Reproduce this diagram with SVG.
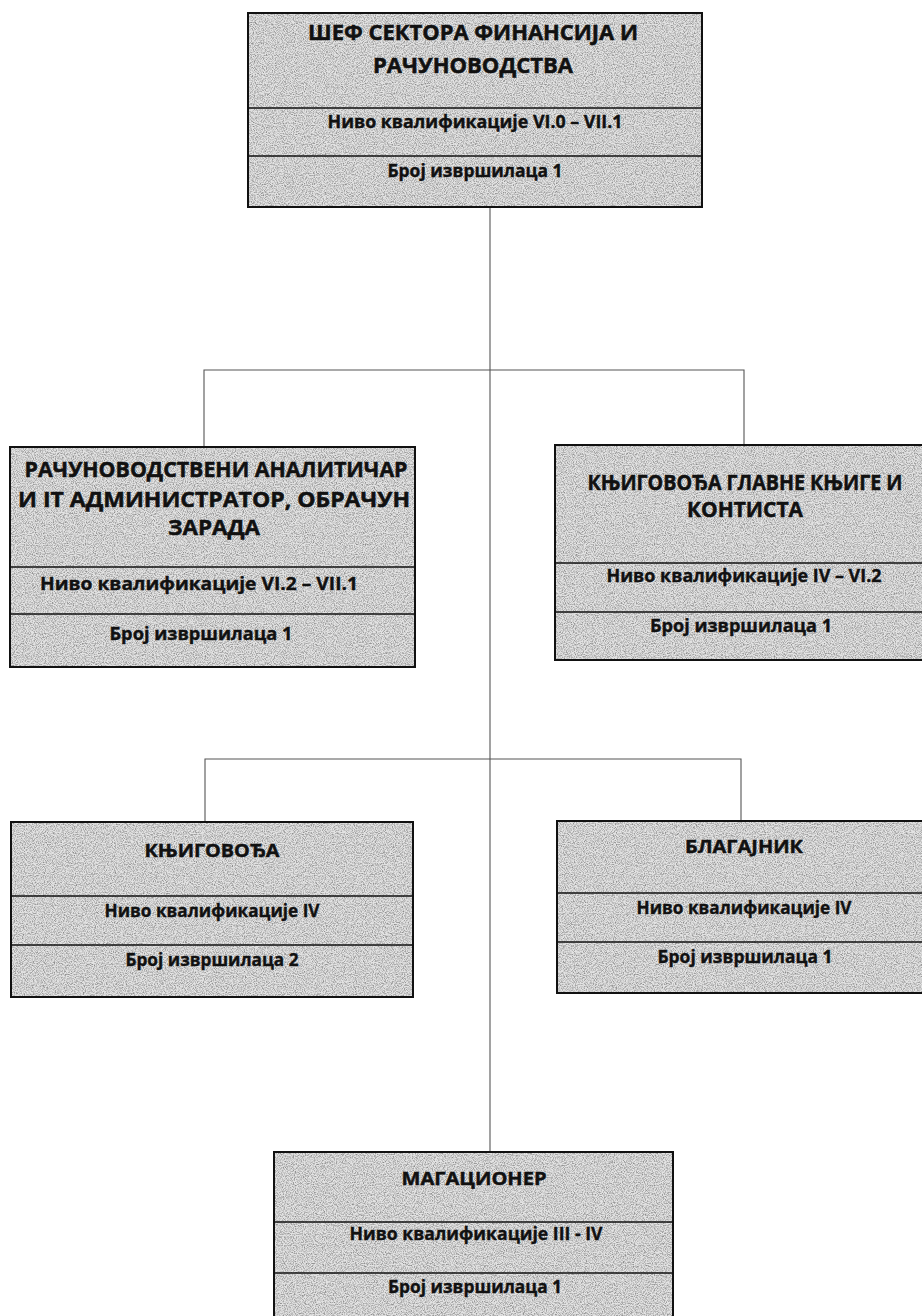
<svg xmlns="http://www.w3.org/2000/svg" width="922" height="1316" viewBox="0 0 922 1316">
<defs>
<filter id="grain" x="0" y="0" width="100%" height="100%" color-interpolation-filters="sRGB">
<feTurbulence type="fractalNoise" baseFrequency="0.9" numOctaves="2" seed="7" result="n"/>
<feColorMatrix in="n" type="matrix" values="0 0 0 0 0.55  0 0 0 0 0.55  0 0 0 0 0.55  2.4 0 0 0 -0.95" result="dots"/>
<feComposite in="dots" in2="SourceGraphic" operator="in" result="d2"/>
<feMerge><feMergeNode in="SourceGraphic"/><feMergeNode in="d2"/></feMerge>
</filter>
</defs>
<style>
.bg{fill:#e3e3e3;filter:url(#grain);}
.box{fill:none;stroke:#111;stroke-width:2;}
.div{stroke:#111;stroke-width:1.6;}
.con{fill:none;stroke:#555;stroke-width:1.1;}
text{font-family:"Open Sans",Lato,"Liberation Sans",sans-serif;font-weight:bold;fill:#111;stroke:#111;stroke-width:0.35;text-anchor:middle;}
.t{font-size:21px;stroke-width:0.5;}
.t2{font-size:18.5px;stroke-width:0.45;}
.s{font-size:17px;}
</style>
<rect width="922" height="1316" fill="#ffffff"/>
<g id="connectors">
<path class="con" d="M490,207 V1152"/>
<path class="con" d="M204,447 V370 H744 V445"/>
<path class="con" d="M205,822 V759 H741 V821"/>
</g>
<g id="n-shef">
<rect class="bg" x="248" y="13" width="454" height="194"/>
<rect class="box" x="248" y="13" width="454" height="194"/>
<line class="div" x1="248" y1="108" x2="702" y2="108"/>
<line class="div" x1="248" y1="156" x2="702" y2="156"/>
<text class="t" x="473" y="40" textLength="330" lengthAdjust="spacingAndGlyphs">ШЕФ СЕКТОРА ФИНАНСИЈА И</text>
<text class="t" x="473" y="73" textLength="200" lengthAdjust="spacingAndGlyphs">РАЧУНОВОДСТВА</text>
<text class="s" x="475" y="128" textLength="295" lengthAdjust="spacingAndGlyphs">Ниво квалификације VI.0 – VII.1</text>
<text class="s" x="475" y="177" textLength="175" lengthAdjust="spacingAndGlyphs">Број извршилаца 1</text>
</g>
<g id="n-analiticar">
<rect class="bg" x="10" y="447" width="405" height="220"/>
<rect class="box" x="10" y="447" width="405" height="220"/>
<line class="div" x1="10" y1="567" x2="415" y2="567"/>
<line class="div" x1="10" y1="614" x2="415" y2="614"/>
<text class="t" x="216" y="477" textLength="383" lengthAdjust="spacingAndGlyphs">РАЧУНОВОДСТВЕНИ АНАЛИТИЧАР</text>
<text class="t" x="214" y="507" textLength="392" lengthAdjust="spacingAndGlyphs">И IT АДМИНИСТРАТОР, ОБРАЧУН</text>
<text class="t" x="214" y="535" textLength="92" lengthAdjust="spacingAndGlyphs">ЗАРАДА</text>
<text class="s" x="199" y="590" textLength="318" lengthAdjust="spacingAndGlyphs">Ниво квалификације VI.2 – VII.1</text>
<text class="s" x="201" y="640" textLength="183" lengthAdjust="spacingAndGlyphs">Број извршилаца 1</text>
</g>
<g id="n-glavna-knjiga">
<rect class="bg" x="555" y="445" width="380" height="215"/>
<rect class="box" x="555" y="445" width="380" height="215"/>
<line class="div" x1="555" y1="563" x2="935" y2="563"/>
<line class="div" x1="555" y1="612" x2="935" y2="612"/>
<text class="t" x="745" y="490" textLength="315" lengthAdjust="spacingAndGlyphs">КЊИГОВОЂА ГЛАВНЕ КЊИГЕ И</text>
<text class="t" x="745" y="517" textLength="116" lengthAdjust="spacingAndGlyphs">КОНТИСТА</text>
<text class="s" x="744" y="582" textLength="275" lengthAdjust="spacingAndGlyphs">Ниво квалификације IV – VI.2</text>
<text class="s" x="741" y="632" textLength="182" lengthAdjust="spacingAndGlyphs">Број извршилаца 1</text>
</g>
<g id="n-knjigovodja">
<rect class="bg" x="11" y="822" width="402" height="175"/>
<rect class="box" x="11" y="822" width="402" height="175"/>
<line class="div" x1="11" y1="896" x2="413" y2="896"/>
<line class="div" x1="11" y1="945" x2="413" y2="945"/>
<text class="t2" x="212" y="857" textLength="135" lengthAdjust="spacingAndGlyphs">КЊИГОВОЂА</text>
<text class="s" x="212" y="917" textLength="215" lengthAdjust="spacingAndGlyphs">Ниво квалификације IV</text>
<text class="s" x="212" y="966" textLength="173" lengthAdjust="spacingAndGlyphs">Број извршилаца 2</text>
</g>
<g id="n-blagajnik">
<rect class="bg" x="557" y="821" width="378" height="172"/>
<rect class="box" x="557" y="821" width="378" height="172"/>
<line class="div" x1="557" y1="893" x2="935" y2="893"/>
<line class="div" x1="557" y1="942" x2="935" y2="942"/>
<text class="t2" x="744" y="853" textLength="118" lengthAdjust="spacingAndGlyphs">БЛАГАЈНИК</text>
<text class="s" x="744" y="914" textLength="215" lengthAdjust="spacingAndGlyphs">Ниво квалификације IV</text>
<text class="s" x="745" y="963" textLength="175" lengthAdjust="spacingAndGlyphs">Број извршилаца 1</text>
</g>
<g id="n-magacioner">
<rect class="bg" x="274" y="1152" width="399" height="180"/>
<rect class="box" x="274" y="1152" width="399" height="180"/>
<line class="div" x1="274" y1="1222" x2="673" y2="1222"/>
<line class="div" x1="274" y1="1273" x2="673" y2="1273"/>
<text class="t2" x="474" y="1185" textLength="145" lengthAdjust="spacingAndGlyphs">МАГАЦИОНЕР</text>
<text class="s" x="476" y="1240" textLength="253" lengthAdjust="spacingAndGlyphs">Ниво квалификације III - IV</text>
<text class="s" x="475" y="1293" textLength="174" lengthAdjust="spacingAndGlyphs">Број извршилаца 1</text>
</g>
</svg>
